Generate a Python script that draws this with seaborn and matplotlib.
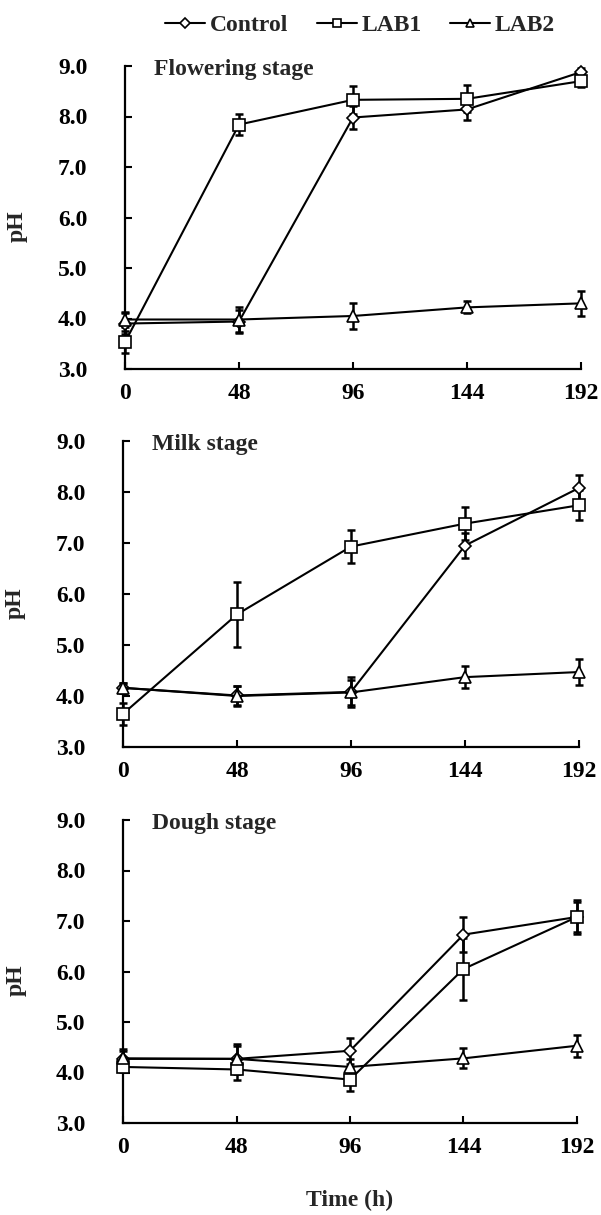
import matplotlib
matplotlib.use("Agg")
import matplotlib.pyplot as plt
import seaborn as sns
import numpy as np

sns.set_theme(style="ticks")
plt.rcParams['font.family'] = ['Liberation Serif', 'DejaVu Serif']
plt.rcParams['font.weight'] = 'bold'

times = [0, 48, 96, 144, 192]
series = ["Control", "LAB1", "LAB2"]
stages = ["Flowering stage", "Milk stage", "Dough stage"]

# Flowering stage
flow_control = [3.90, 3.94, 7.98, 8.14, 8.88]
flow_lab1 = [3.53, 7.84, 8.33, 8.35, 8.70]
flow_lab2 = [3.98, 3.98, 4.05, 4.22, 4.30]
flow_control_err = [0.20, 0.22, 0.23, 0.20, 0.08]
flow_lab1_err = [0.22, 0.20, 0.28, 0.27, 0.12]
flow_lab2_err = [0.15, 0.25, 0.26, 0.12, 0.25]

# Milk stage
milk_control = [4.16, 4.01, 4.08, 6.95, 8.08]
milk_lab1 = [3.65, 5.60, 6.93, 7.38, 7.74]
milk_lab2 = [4.16, 4.00, 4.07, 4.37, 4.47]
milk_control_err = [0.10, 0.18, 0.30, 0.25, 0.25]
milk_lab1_err = [0.22, 0.64, 0.32, 0.32, 0.29]
milk_lab2_err = [0.10, 0.20, 0.25, 0.22, 0.25]

# Dough stage
dough_control = [4.27, 4.27, 4.43, 6.73, 7.08]
dough_lab1 = [4.11, 4.06, 3.86, 6.05, 7.08]
dough_lab2 = [4.28, 4.27, 4.11, 4.28, 4.53]
dough_control_err = [0.20, 0.30, 0.26, 0.35, 0.30]
dough_lab1_err = [0.10, 0.20, 0.23, 0.62, 0.33]
dough_lab2_err = [0.15, 0.25, 0.15, 0.20, 0.22]

values = {
    "Flowering stage": [flow_control, flow_lab1, flow_lab2],
    "Milk stage": [milk_control, milk_lab1, milk_lab2],
    "Dough stage": [dough_control, dough_lab1, dough_lab2],
}
errors = {
    "Flowering stage": [flow_control_err, flow_lab1_err, flow_lab2_err],
    "Milk stage": [milk_control_err, milk_lab1_err, milk_lab2_err],
    "Dough stage": [dough_control_err, dough_lab1_err, dough_lab2_err],
}

markers = {"Control": "D", "LAB1": "s", "LAB2": "^"}
msizes = {"Control": 6, "LAB1": 8, "LAB2": 8}

fig = plt.figure(figsize=(6.01, 12.15), dpi=100)
W, H = 601, 1215
boxes = [(125, 581, 66, 369), (123, 579, 441, 747), (123, 577, 820, 1123)]

FS = 17
axes = []
for i, stage in enumerate(stages):
    l, r, t, b = boxes[i]
    ax = fig.add_axes([l / W, 1 - b / H, (r - l) / W, (b - t) / H])
    axes.append(ax)
    for j, s in enumerate(series):
        ax.errorbar(times, values[stage][j], yerr=errors[stage][j], fmt='none',
                    ecolor='black', elinewidth=1.8, capsize=3, capthick=1.8,
                    zorder=2, clip_on=False)
        sns.lineplot(x=times, y=values[stage][j], ax=ax, color='black',
                     marker=markers[s], markersize=msizes[s],
                     markerfacecolor='white', markeredgecolor='black',
                     markeredgewidth=1.2, linewidth=1.5, label=s,
                     errorbar=None, zorder=3, clip_on=False)
    ax.set_xlim(0, 192)
    ax.set_ylim(3, 9)
    ax.set_xticks(times)
    ax.set_xticklabels([str(t) for t in times])
    ax.set_yticks([3, 4, 5, 6, 7, 8, 9])
    ax.set_yticklabels([f"{v:.1f}" for v in [3, 4, 5, 6, 7, 8, 9]])
    ax.tick_params(axis='both', direction='in', length=5, width=1.5,
                   labelsize=FS, colors='black', left=True, bottom=True)
    ax.tick_params(axis='y', pad=27)
    ax.tick_params(axis='x', pad=10)
    for lab in ax.get_xticklabels() + ax.get_yticklabels():
        lab.set_fontweight('bold')
    for sp in ['top', 'right']:
        ax.spines[sp].set_visible(False)
    for sp in ['left', 'bottom']:
        ax.spines[sp].set_linewidth(1.6)
        ax.spines[sp].set_color('black')
    ax.set_xlabel("")
    ax.set_ylabel("pH", fontsize=FS, fontweight='bold')
    ax.yaxis.set_label_coords(-0.213, 0.47)
    ax.text(0.064, 0.987, stage, transform=ax.transAxes, fontsize=FS,
            fontweight='bold', ha='left', va='center')
    ax.get_legend().remove()

handles, labels = axes[0].get_legend_handles_labels()
fig.legend(handles, labels, loc='center', bbox_to_anchor=(360 / W, 1 - 25 / H),
           ncol=3, frameon=False, prop={'weight': 'bold', 'size': FS},
           handlelength=1.7, handletextpad=0.2, columnspacing=1.2, markerscale=0.8)

fig.text(350 / W, 1 - 1200 / H, "Time (h)", ha='center', va='center',
         fontsize=FS, fontweight='bold')

fig.savefig("out.png", dpi=100, facecolor='white')
